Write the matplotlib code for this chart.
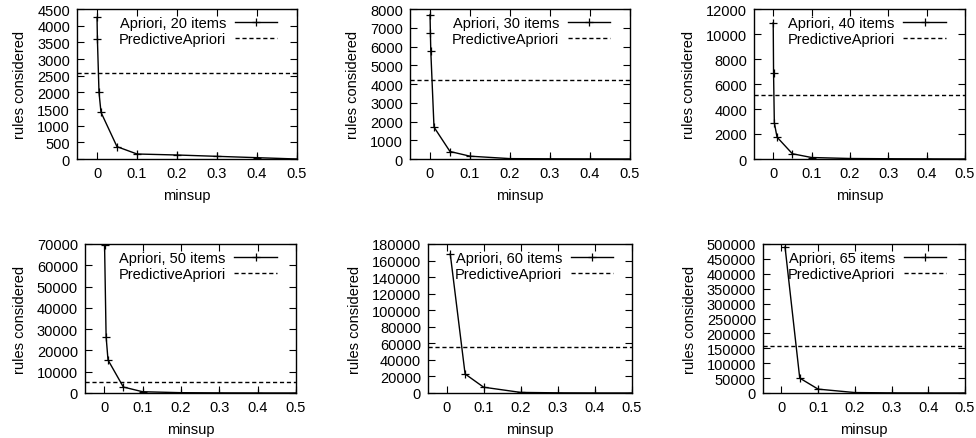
import matplotlib
matplotlib.use("Agg")
import matplotlib.pyplot as plt

plt.rcParams['font.family'] = ['Liberation Sans', 'DejaVu Sans']
plt.rcParams['font.size'] = 10.5

# minsup values and rules considered
x20 = [0.0001, 0.001, 0.005, 0.01, 0.05, 0.1, 0.2, 0.3, 0.4, 0.5]
y20 = [4250, 3600, 2000, 1400, 370, 150, 120, 80, 40, 0]
pa20 = 2580

x30 = [0.0001, 0.001, 0.002, 0.01, 0.05, 0.1, 0.2, 0.3, 0.4, 0.5]
y30 = [7700, 6700, 5750, 1700, 400, 150, 20, 10, 5, 0]
pa30 = 4200

x40 = [0.0001, 0.001, 0.003, 0.01, 0.05, 0.1, 0.2, 0.3, 0.4, 0.5]
y40 = [10900, 6850, 2900, 1750, 420, 120, 40, 20, 10, 0]
pa40 = 5100

x50 = [0.001, 0.005, 0.01, 0.05, 0.1, 0.2, 0.3, 0.4, 0.5]
y50 = [69500, 26500, 15500, 2800, 600, 150, 60, 20, 0]
pa50 = 5200

x60 = [0.01, 0.05, 0.1, 0.2, 0.3, 0.4, 0.5]
y60 = [168000, 23000, 7000, 700, 200, 50, 0]
pa60 = 55500

x65 = [0.01, 0.05, 0.1, 0.2, 0.3, 0.4, 0.5]
y65 = [490000, 50000, 13000, 1500, 400, 100, 0]
pa65 = 157000

panels = [
    ("Apriori, 20 items", x20, y20, pa20, 4500, 500),
    ("Apriori, 30 items", x30, y30, pa30, 8000, 1000),
    ("Apriori, 40 items", x40, y40, pa40, 12000, 2000),
    ("Apriori, 50 items", x50, y50, pa50, 70000, 10000),
    ("Apriori, 60 items", x60, y60, pa60, 180000, 20000),
    ("Apriori, 65 items", x65, y65, pa65, 500000, 50000),
]

# axes boxes in pixels: left, right, top, bottom
boxes = [
    (77, 297, 10, 160),
    (410, 630, 10, 160),
    (754, 965, 10, 160),
    (85, 296, 245, 394),
    (428, 632, 245, 394),
    (763, 965, 245, 394),
]

W, H = 976, 439
fig = plt.figure(figsize=(W / 100, H / 100), dpi=100)

for (label, xs, ys, pa, ymax, ystep), (l, r, t, b) in zip(panels, boxes):
    ax = fig.add_axes([l / W, 1 - b / H, (r - l) / W, (b - t) / H])
    ax.plot(xs, ys, color='black', lw=1, marker='+', ms=6, mew=0.9, label=label)
    ax.axhline(pa, color='black', lw=1, ls=(0, (3, 2)), label='PredictiveApriori')
    ax.set_xlim(-0.05, 0.5)
    ax.set_ylim(0, ymax)
    ax.set_xticks([0, 0.1, 0.2, 0.3, 0.4, 0.5])
    ax.set_xticklabels(['0', '0.1', '0.2', '0.3', '0.4', '0.5'])
    ax.set_yticks(range(0, ymax + 1, ystep))
    ax.tick_params(direction='in', top=True, right=True, length=5, width=0.8,
                   labelsize=10.5, pad=5)
    for s in ax.spines.values():
        s.set_linewidth(1)
    ax.set_xlabel('minsup', fontsize=10.5, labelpad=6)
    ax.set_ylabel('rules considered', fontsize=10.5, labelpad=7)
    ax.legend(loc='upper right', bbox_to_anchor=(0.95, 1.01), frameon=False,
              markerfirst=False, handlelength=2.9, fontsize=10.5,
              borderaxespad=0.2, labelspacing=0.1, handletextpad=0.6)

fig.savefig('out.png', dpi=100)
